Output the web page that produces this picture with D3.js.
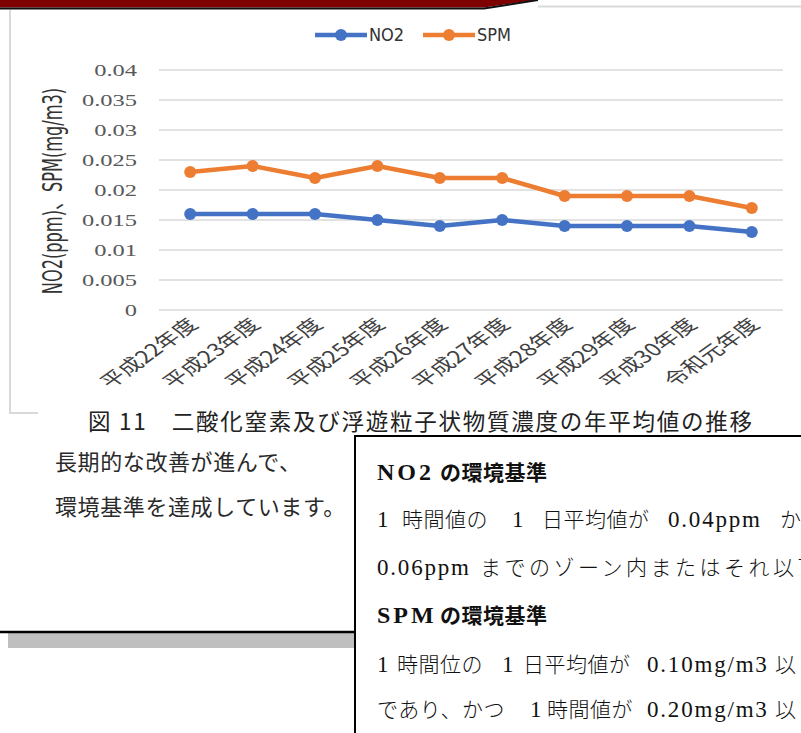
<!DOCTYPE html>
<html>
<head>
<meta charset="utf-8">
<script src="https://cdn.jsdelivr.net/npm/d3@7"></script>
<style>
  body { margin: 0; background: #fff; }
  svg { display: block; }
</style>
</head>
<body>
<div id="page"></div>
<script>
// Chart data
const years = ["平成22年度", "平成23年度", "平成24年度", "平成25年度", "平成26年度",
  "平成27年度", "平成28年度", "平成29年度", "平成30年度", "令和元年度"];
const no2 = [0.016, 0.016, 0.016, 0.015, 0.014, 0.015, 0.014, 0.014, 0.014, 0.013];
const spm = [0.023, 0.024, 0.022, 0.024, 0.022, 0.022, 0.019, 0.019, 0.019, 0.017];
const yTicks = [0, 0.005, 0.01, 0.015, 0.02, 0.025, 0.03, 0.035, 0.04];
const seriesNames = ["NO2", "SPM"];
const seriesColors = ["#4472C4", "#ED7D31"];

// Page text
const yTitle = "NO2(ppm)、SPM(mg/m3)";
const caption = "図 11　二酸化窒素及び浮遊粒子状物質濃度の年平均値の推移";
const noteLines = ["長期的な改善が進んで、", "環境基準を達成しています。"];

const W = 801, H = 733;
const svg = d3.select("#page").append("svg")
  .attr("width", W)
  .attr("height", H);

svg.append("rect").attr("width", W).attr("height", H).attr("fill", "#fff");

// Page decoration at the top
svg.append("polygon")
  .attr("points", "0,0 536,0 484,7.5 0,7.5")
  .attr("fill", "#7f0000");
svg.append("polyline")
  .attr("points", "0,8.5 484,8.5 538,0")
  .attr("fill", "none")
  .attr("stroke", "#111")
  .attr("stroke-width", 2);
svg.append("line")
  .attr("x1", 538).attr("x2", W).attr("y1", 6.5).attr("y2", 6.5)
  .attr("stroke", "#d9d9d9").attr("stroke-width", 2);

// Chart frame (left edge only visible)
svg.append("polyline")
  .attr("points", "10,10 10,413 38,413")
  .attr("fill", "none")
  .attr("stroke", "#d9d9d9")
  .attr("stroke-width", 2);

// Scales
const x = d3.scaleBand().domain(years).range([159, 783]);
const y = d3.scaleLinear().domain([0, 0.04]).range([310, 70]);
const cx = d => x(d) + x.bandwidth() / 2;

// Gridlines
svg.append("g")
  .selectAll("line")
  .data(yTicks)
  .join("line")
  .attr("x1", 159).attr("x2", 783)
  .attr("y1", d => y(d)).attr("y2", d => y(d))
  .attr("stroke", "#d9d9d9")
  .attr("stroke-width", 1.5);

// Y tick labels
svg.append("g")
  .selectAll("text")
  .data(yTicks)
  .join("text")
  .attr("transform", d => `translate(137,${y(d)}) scale(1.4,1)`)
  .attr("text-anchor", "end")
  .attr("dy", "0.35em")
  .attr("font-family", "Liberation Serif")
  .attr("font-size", 17.5)
  .attr("fill", "#595959")
  .text(d => String(+d.toFixed(3)));

// Y axis title
svg.append("text")
  .attr("transform", "translate(62,191) scale(1.5,1) rotate(-90)")
  .attr("text-anchor", "middle")
  .attr("font-family", "DejaVu Sans Condensed, Noto Sans CJK JP")
  .attr("font-size", 18)
  .attr("fill", "#333")
  .text(yTitle);

// X tick labels
svg.append("g")
  .selectAll("text")
  .data(years)
  .join("text")
  .attr("transform", d => `translate(${cx(d) + 9},326) scale(1.4,1) rotate(-45)`)
  .attr("text-anchor", "end")
  .attr("font-family", "Noto Sans CJK JP")
  .attr("font-size", 17.5)
  .attr("fill", "#404040")
  .text(d => d);

// Lines and markers
const series = [no2, spm];
const line = d3.line()
  .x((d, i) => cx(years[i]))
  .y(d => y(d));

series.forEach((vals, k) => {
  svg.append("path")
    .datum(vals)
    .attr("fill", "none")
    .attr("stroke", seriesColors[k])
    .attr("stroke-width", 4.5)
    .attr("stroke-linejoin", "round")
    .attr("d", line);
  svg.append("g")
    .selectAll("circle")
    .data(vals)
    .join("circle")
    .attr("cx", (d, i) => cx(years[i]))
    .attr("cy", d => y(d))
    .attr("r", 6)
    .attr("fill", seriesColors[k]);
});

// Legend
const legendX = [315, 423];
seriesNames.forEach((name, k) => {
  const lg = svg.append("g").attr("transform", `translate(${legendX[k]},35)`);
  lg.append("line")
    .attr("x1", 0).attr("x2", 52)
    .attr("stroke", seriesColors[k])
    .attr("stroke-width", 4.5);
  lg.append("circle").attr("cx", 26).attr("r", 6).attr("fill", seriesColors[k]);
  lg.append("text")
    .attr("x", 54)
    .attr("dy", "0.36em")
    .attr("font-family", "DejaVu Sans Condensed")
    .attr("font-size", 18)
    .attr("fill", "#333")
    .text(name);
});

// Caption
svg.append("text")
  .attr("x", 88).attr("y", 430)
  .attr("textLength", 664)
  .attr("lengthAdjust", "spacing")
  .attr("font-family", "Noto Sans CJK JP")
  .attr("font-size", 22.5)
  .attr("fill", "#222")
  .text(caption);

// Left note text
svg.append("g")
  .selectAll("text")
  .data(noteLines)
  .join("text")
  .attr("x", 55)
  .attr("y", (d, i) => 470 + i * 45)
  .attr("font-family", "Noto Sans CJK JP")
  .attr("font-size", 22)
  .attr("letter-spacing", 0.6)
  .attr("fill", "#2a2a2a")
  .text(d => d);

// Left panel bottom edge and shadow
svg.append("rect")
  .attr("x", 8).attr("y", 633).attr("width", 350).attr("height", 15)
  .attr("fill", "#bfbfbf");
svg.append("line")
  .attr("x1", 0).attr("x2", 356).attr("y1", 632).attr("y2", 632)
  .attr("stroke", "#000").attr("stroke-width", 2.5);

// Environmental standard box
svg.append("rect")
  .attr("x", 355).attr("y", 436).attr("width", 460).attr("height", 320)
  .attr("fill", "#fff")
  .attr("stroke", "#000")
  .attr("stroke-width", 2);

// Each part: [x, text, isLatin]
const boxLines = [
  { y: 480, bold: true, parts: [[377, "NO2", 1], [440, "の環境基準"]] },
  { y: 527, parts: [[377, "1", 1], [402, "時間値の"], [512, "1", 1], [542, "日平均値が"], [668, "0.04ppm", 1], [780, "か"]] },
  { y: 575, spacing: 3.5, parts: [[377, "0.06ppm", 1], [480, "までのゾーン内またはそれ以下"]] },
  { y: 623, bold: true, parts: [[377, "SPM", 1], [440, "の環境基準"]] },
  { y: 672, parts: [[377, "1", 1], [397, "時間位の"], [502, "1", 1], [523, "日平均値が"], [647, "0.10mg/m3", 1], [775, "以"]] },
  { y: 717, parts: [[377, "であり、かつ"], [530, "1", 1], [547, "時間値が"], [647, "0.20mg/m3", 1], [775, "以"]] }
];
boxLines.forEach(l => {
  const t = svg.append("text")
    .attr("y", l.y)
    .attr("fill", "#111");
  l.parts.forEach(p => {
    const s = t.append("tspan").attr("x", p[0]).text(p[1]);
    if (p[2]) {
      s.attr("font-family", "Liberation Serif")
        .attr("font-size", l.bold ? 24 : 23)
        .attr("letter-spacing", l.bold ? 3 : 1.8)
        .attr("font-weight", l.bold ? "bold" : "normal");
    } else {
      s.attr("font-family", "Noto Sans CJK JP")
        .attr("font-size", 21)
        .attr("letter-spacing", l.spacing || 0.5)
        .attr("font-weight", l.bold ? "bold" : 300);
    }
  });
});
</script>
</body>
</html>
